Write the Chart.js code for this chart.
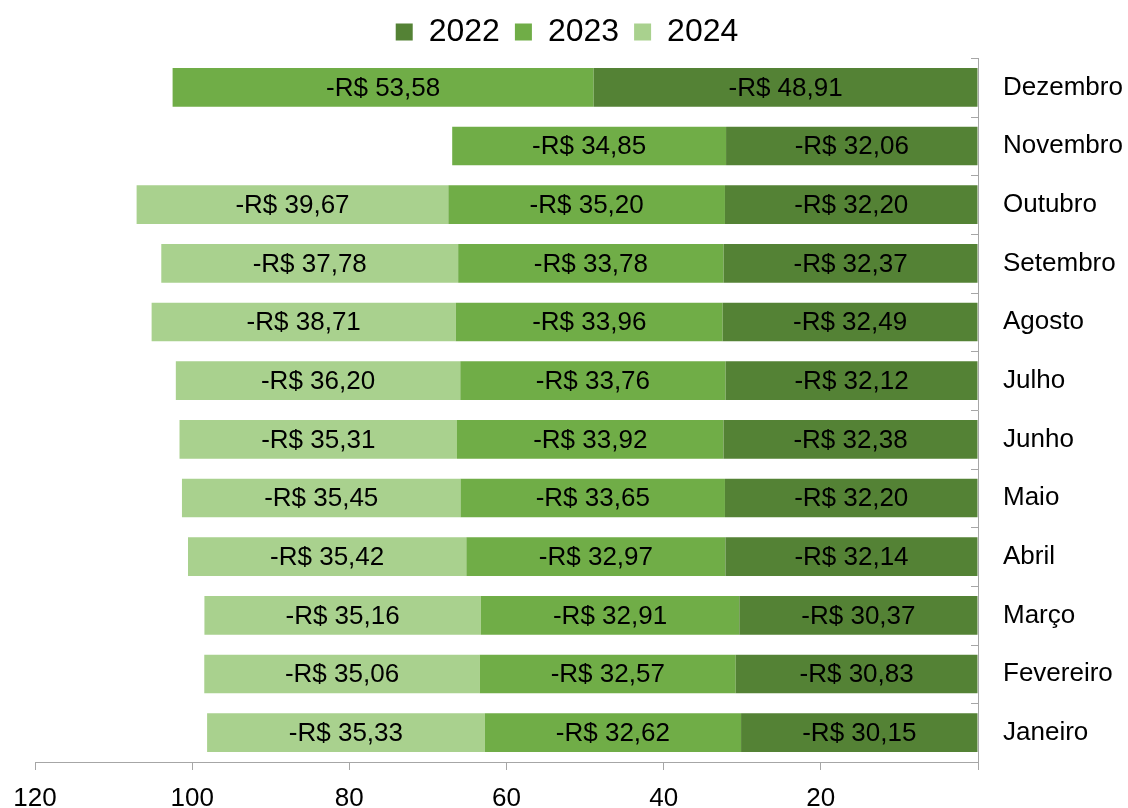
<!DOCTYPE html>
<html>
<head>
<meta charset="utf-8">
<script src="https://cdn.jsdelivr.net/npm/chart.js@4.4.0/dist/chart.umd.min.js"></script>
<style>
  body { margin: 0; background: #fff; }
  #wrap { width: 1128px; height: 808px; }
</style>
</head>
<body>
<div id="wrap"><canvas id="grafico" width="1128" height="808"></canvas></div>
<script>
const meses = ['Janeiro', 'Fevereiro', 'Março', 'Abril', 'Maio', 'Junho',
    'Julho', 'Agosto', 'Setembro', 'Outubro', 'Novembro', 'Dezembro'];
const valores2022 = [-30.15, -30.83, -30.37, -32.14, -32.20, -32.38, -32.12, -32.49, -32.37, -32.20, -32.06, -48.91];
const valores2023 = [-32.62, -32.57, -32.91, -32.97, -33.65, -33.92, -33.76, -33.96, -33.78, -35.20, -34.85, -53.58];
const valores2024 = [-35.33, -35.06, -35.16, -35.42, -35.45, -35.31, -36.20, -38.71, -37.78, -39.67, null, null];

const fonte = '"Liberation Sans", Arial, sans-serif';
const cinza = '#a6a6a6';

const formatar = v => '-R$ ' + Math.abs(v).toFixed(2).replace('.', ',');

// rótulos no meio de cada barra
const rotulos = {
    id: 'rotulos',
    afterDatasetsDraw(chart) {
        const ctx = chart.ctx;
        ctx.save();
        ctx.font = '26px ' + fonte;
        ctx.fillStyle = '#000';
        ctx.textAlign = 'center';
        ctx.textBaseline = 'middle';
        chart.data.datasets.forEach((ds, i) => {
            chart.getDatasetMeta(i).data.forEach((bar, j) => {
                const v = ds.data[j];
                if (v == null) return;
                const p = bar.getCenterPoint();
                ctx.fillText(formatar(v), p.x, p.y + 1);
            });
        });
        ctx.restore();
    }
};

// pequenas marcas do eixo vertical, entre as categorias
const marcasY = {
    id: 'marcasY',
    afterDraw(chart) {
        const ys = chart.scales.y;
        const ctx = chart.ctx;
        const meio = Math.abs(ys.getPixelForValue(1) - ys.getPixelForValue(0)) / 2;
        const x = chart.chartArea.right;
        ctx.save();
        ctx.strokeStyle = cinza;
        ctx.lineWidth = 1;
        ctx.beginPath();
        meses.forEach((m, j) => {
            const y = ys.getPixelForValue(j);
            [y - meio, y + meio].forEach(yy => {
                const r = Math.round(yy) + 0.5;
                ctx.moveTo(x - 7, r);
                ctx.lineTo(x, r);
            });
        });
        ctx.stroke();
        ctx.restore();
    }
};

// a legenda fica centrada na largura toda, não só depois da margem esquerda
const centrarLegenda = {
    id: 'centrarLegenda',
    afterLayout(chart) {
        const lg = chart.legend;
        if (!lg) return;
        const d = chart.options.layout.padding.left / 2 - 3;
        lg.left -= d;
        lg.right -= d;
    }
};

new Chart(document.getElementById('grafico'), {
    type: 'bar',
    data: {
        labels: meses,
        datasets: [
            { label: '2022', data: valores2022, backgroundColor: '#548235' },
            { label: '2023', data: valores2023, backgroundColor: '#70ad47' },
            { label: '2024', data: valores2024, backgroundColor: '#a9d18e' }
        ]
    },
    options: {
        indexAxis: 'y',
        responsive: false,
        animation: false,
        datasets: {
            bar: { barPercentage: 0.66, categoryPercentage: 1 }
        },
        layout: { padding: { left: 35, right: 0, top: 1, bottom: 0 } },
        scales: {
            x: {
                stacked: true,
                min: -120,
                max: 0,
                ticks: {
                    stepSize: 20,
                    color: '#000',
                    font: { family: fonte, size: 26, lineHeight: 1 },
                    padding: 16,
                    maxRotation: 0,
                    callback: v => v === 0 ? '' : Math.abs(v)
                },
                grid: { drawOnChartArea: false, tickLength: 8, color: cinza },
                border: { color: cinza },
                afterFit: s => { s.height = 46; s.paddingLeft = 0; s.paddingRight = 0; }
            },
            y: {
                stacked: true,
                reverse: true,
                position: 'right',
                ticks: {
                    color: '#000',
                    font: { family: fonte, size: 26 },
                    padding: 17
                },
                grid: { display: false },
                border: { color: cinza },
                afterFit: s => { s.width = 150; }
            }
        },
        plugins: {
            legend: {
                position: 'top',
                labels: {
                    color: '#000',
                    font: { family: fonte, size: 32 },
                    boxWidth: 17,
                    boxHeight: 17,
                    padding: 15
                }
            },
            tooltip: { enabled: false }
        }
    },
    plugins: [rotulos, marcasY, centrarLegenda]
});
</script>
</body>
</html>
